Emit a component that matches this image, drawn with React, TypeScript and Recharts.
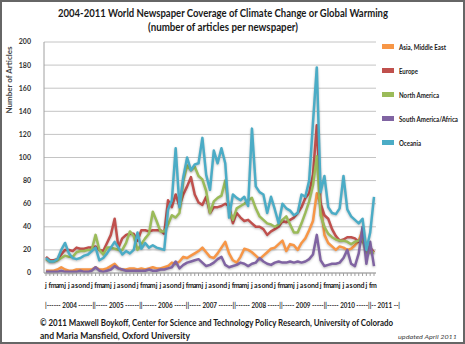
import { LineChart, Line, XAxis, YAxis, CartesianGrid } from "recharts";

// month letters and years on the category axis (Jan 2004 - Mar 2011)
const MONTH_LETTERS = ["j", "f", "m", "a", "m", "j", "j", "a", "s", "o", "n", "d"];
const YEARS = [2004, 2005, 2006, 2007, 2008, 2009, 2010, 2011];
const MONTHS_IN_LAST_YEAR = 3;

const Y_TICKS = [0, 20, 40, 60, 80, 100, 120, 140, 160, 180, 200];

// articles per newspaper
const asiaMiddleEast = [
  2, 2, 2, 3, 5, 3, 2, 2, 3, 3, 3, 3,
  3, 5, 3, 3, 4, 6, 8, 4, 3, 3, 4, 4,
  3, 4, 3, 4, 5, 4, 4, 5, 6, 9, 8, 10,
  14, 13, 15, 17, 19, 22, 18, 14, 13, 17, 22, 27,
  17, 11, 9, 14, 21, 20, 18, 15, 12, 15, 18, 21,
  22, 25, 28, 19, 25, 24, 20, 26, 30, 37, 45, 69,
  60, 33, 26, 23, 20, 23, 22, 20, 21, 24, 28, 37,
  22, 19, 18,
];

const europe = [
  14, 11, 11, 12, 16, 20, 20, 19, 22, 21, 21, 22,
  22, 23, 20, 19, 26, 33, 47, 22, 30, 33, 34, 34,
  28, 37, 37, 36, 37, 37, 37, 34, 63, 57, 68, 58,
  68, 75, 83, 68, 61, 59, 66, 52, 57, 57, 58, 60,
  58, 43, 52, 48, 45, 46, 43, 40, 40, 38, 33, 36,
  38, 40, 45, 44, 46, 48, 52, 57, 65, 69, 85, 128,
  60, 50, 47, 38, 32, 28, 29, 31, 31, 30, 27, 28,
  22, 22, 18,
];

const northAmerica = [
  12, 10, 10, 11, 13, 15, 14, 14, 18, 19, 19, 20,
  20, 33, 20, 16, 22, 22, 21, 20, 20, 26, 36, 32,
  20, 25, 30, 34, 53, 45, 36, 36, 42, 50, 48, 52,
  80, 93, 89, 92, 84, 81, 71, 52, 62, 65, 67, 80,
  55, 46, 56, 58, 60, 63, 65, 56, 49, 46, 43, 42,
  40, 42, 46, 49, 42, 35, 35, 43, 52, 62, 76, 101,
  50, 40, 34, 31, 29, 28, 28, 27, 25, 27, 28, 30,
  17, 18, 18,
];

const southAmericaAfrica = [
  1, 1, 1, 1, 2, 1, 1, 1, 1, 2, 1, 1,
  2, 5, 2, 1, 2, 3, 6, 4, 3, 2, 2, 2,
  2, 2, 2, 3, 2, 2, 3, 3, 4, 5, 10, 4,
  7, 9, 10, 11, 12, 9, 6, 7, 9, 12, 14, 7,
  5, 6, 7, 9, 8, 6, 8, 9, 13, 10, 8, 7,
  9, 10, 9, 9, 10, 9, 10, 9, 10, 12, 16, 33,
  11, 6, 7, 8, 8, 9, 13, 20, 8, 6, 17, 40,
  8, 27, 6,
];

const oceania = [
  13, 10, 10, 12, 20, 26, 17, 13, 12, 13, 15, 16,
  19, 22, 11, 13, 17, 22, 27, 22, 16, 19, 17, 20,
  35, 21, 26, 22, 24, 22, 21, 20, 55, 63, 108, 57,
  83, 100, 89, 94, 95, 117, 85, 72, 106, 95, 108, 95,
  48, 68, 65, 63, 66, 58, 125, 75, 70, 68, 52, 66,
  55, 43, 60, 56, 54, 50, 52, 68, 66, 80, 130, 178,
  70, 84, 57, 52, 51, 56, 84, 55, 49, 46, 43, 47,
  20, 35, 66,
];

const SERIES = [
  { key: "asia", name: "Asia, Middle East", color: "#F79646", values: asiaMiddleEast, w: 47 },
  { key: "europe", name: "Europe", color: "#C0504D", values: europe, w: 19 },
  { key: "northAmerica", name: "North America", color: "#9BBB59", values: northAmerica, w: 40 },
  { key: "southAmerica", name: "South America/Africa", color: "#8064A2", values: southAmericaAfrica, w: 59 },
  { key: "oceania", name: "Oceania", color: "#4BACC6", values: oceania, w: 22 },
];

const months: string[] = [];
YEARS.forEach((y, yi) => {
  const n = yi === YEARS.length - 1 ? MONTHS_IN_LAST_YEAR : 12;
  for (let m = 0; m < n; m++) months.push(MONTH_LETTERS[m]);
});

const data = months.map((m, i) => {
  const row: Record<string, string | number> = { month: m };
  SERIES.forEach((s) => {
    row[s.key] = s.values[i];
  });
  return row;
});

const FONT = "Lato, 'Open Sans', sans-serif";

export default function App() {
  return (
    <div
      style={{
        position: "absolute",
        left: 0,
        top: 0,
        width: 465,
        height: 344,
        background: "#fff",
        fontFamily: FONT,
      }}
    >
      <style>{`.recharts-line-curve { filter: drop-shadow(0.6px 1px 0.8px rgba(0,0,0,0.25)); }`}</style>
      <LineChart
        width={465}
        height={344}
        data={data}
        margin={{ top: 42, right: 89, bottom: 51, left: 14 }}
      >
        <CartesianGrid vertical={false} stroke="#c4c4c4" strokeWidth={1} />
        <XAxis
          dataKey="month"
          interval={0}
          height={20}
          padding={{ left: 2, right: 2 }}
          axisLine={{ stroke: "#a0a0a0" }}
          tickLine={{ stroke: "#a0a0a0" }}
          tickSize={3}
          tickMargin={7}
          tick={{ fontSize: 7, fill: "#222", fontWeight: 700, fontFamily: FONT }}
        />
        <YAxis
          domain={[0, 200]}
          ticks={Y_TICKS}
          width={30}
          axisLine={{ stroke: "#a0a0a0" }}
          tickLine={false}
          tickMargin={7}
          tick={{ fontSize: 7, fill: "#333", fontWeight: 700, fontFamily: FONT }}
        />
        {SERIES.map((s) => (
          <Line
            key={s.key}
            dataKey={s.key}
            name={s.name}
            stroke={s.color}
            strokeWidth={2.5}
            strokeLinejoin="round"
            dot={false}
            activeDot={false}
            isAnimationActive={false}
          />
        ))}
      </LineChart>

      <svg
        width={465}
        height={344}
        style={{ position: "absolute", left: 0, top: 0, pointerEvents: "none" }}
      >
        <g fontFamily={FONT} fontWeight={700} fill="#1a1a1a">
          <text x={58} y={17} fontSize={11.5} textLength={330} lengthAdjust="spacingAndGlyphs">
            2004-2011 World Newspaper Coverage of Climate Change or Global Warming
          </text>
          <text x={148} y={31} fontSize={11.5} textLength={150} lengthAdjust="spacingAndGlyphs">
            (number of articles per newspaper)
          </text>
          <text
            transform="translate(12 80) rotate(-90)"
            textAnchor="middle"
            fontSize={8}
            fill="#444"
          >
            Number of Articles
          </text>

          {SERIES.map((s, i) => (
            <g key={s.key}>
              <rect x={382} y={44 + i * 24} width={12} height={5} fill={s.color} />
              <text
                x={399}
                y={49.5 + i * 24}
                fontSize={6.8}
                textLength={s.w}
                lengthAdjust="spacingAndGlyphs"
              >
                {s.name}
              </text>
            </g>
          ))}

          <text x={45} y={308} fontSize={6.8} fill="#222" textLength={355} lengthAdjust="spacingAndGlyphs">
            |------ 2004 ------||----- 2005 ------||------ 2006 -----||----- 2007 ------||------ 2008 -----||----- 2009 -----||----- 2010 -----||-- 2011 --|
          </text>

          <text x={40} y={326} fontSize={9.2} textLength={353} lengthAdjust="spacingAndGlyphs">
            © 2011 Maxwell Boykoff, Center for Science and Technology Policy Research, University of Colorado
          </text>
          <text x={40} y={339} fontSize={9.2} textLength={150} lengthAdjust="spacingAndGlyphs">
            and Maria Mansfield, Oxford University
          </text>
          <text
            x={398}
            y={339}
            fontSize={5.5}
            fontWeight={400}
            fontStyle="italic"
            fill="#444"
            textLength={59}
            lengthAdjust="spacingAndGlyphs"
          >
            updated April 2011
          </text>
        </g>
        <rect x={1} y={1} width={463} height={342} fill="none" stroke="#666" strokeWidth={2} />
      </svg>
    </div>
  );
}
